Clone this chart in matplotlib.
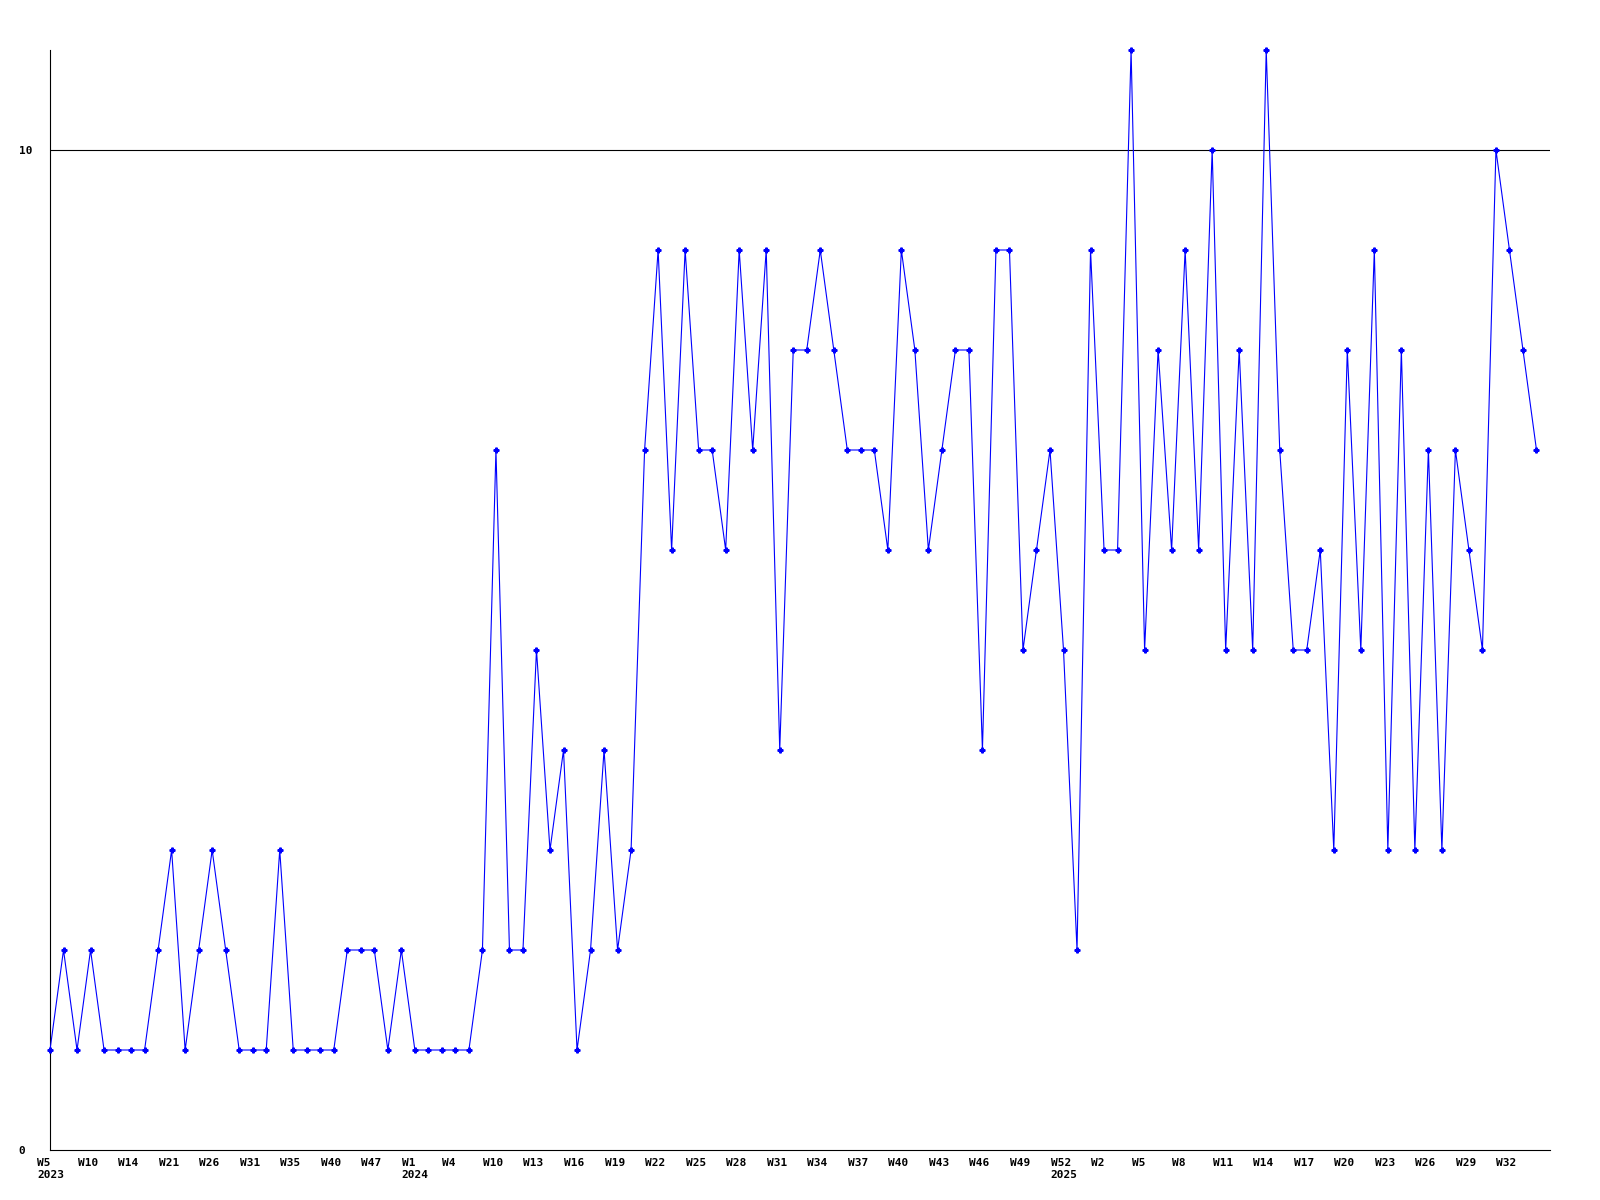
import numpy as np
import matplotlib
matplotlib.use("Agg")
import matplotlib.pyplot as plt
import matplotlib.transforms as mtransforms

# weekly counts, one point per reported week
values = [1, 2, 1, 2, 1, 1, 1, 1, 2, 3,
          1, 2, 3, 2, 1, 1, 1, 3, 1, 1,
          1, 1, 2, 2, 2, 1, 2, 1, 1, 1,
          1, 1, 2, 7, 2, 2, 5, 3, 4, 1,
          2, 4, 2, 3, 7, 9, 6, 9, 7, 7,
          6, 9, 7, 9, 4, 8, 8, 9, 8, 7,
          7, 7, 6, 9, 8, 6, 7, 8, 8, 4,
          9, 9, 5, 6, 7, 5, 2, 9, 6, 6,
          11, 5, 8, 6, 9, 6, 10, 5, 8, 5,
          11, 7, 5, 5, 6, 3, 8, 5, 9, 3,
          8, 3, 7, 3, 7, 6, 5, 10, 9, 8,
          7]

# label shown on every third point
week_labels = ["W5", "W10", "W14", "W21", "W26", "W31", "W35", "W40", "W47",
               "W1", "W4", "W10", "W13", "W16", "W19", "W22", "W25", "W28",
               "W31", "W34", "W37", "W40", "W43", "W46", "W49", "W52",
               "W2", "W5", "W8", "W11", "W14", "W17", "W20", "W23", "W26",
               "W29", "W32"]
year_labels = {0: "2023", 9: "2024", 25: "2025"}

y_ticks = [0, 10]

x = np.arange(len(values))

fig = plt.figure(figsize=(16, 12), dpi=100)
ax = fig.add_axes([50/1600, 50/1200, 1500/1600, 1100/1200])

ax.axhline(10, color="black", lw=0.8, zorder=1)
ax.plot(x, values, color="#0000ff", lw=0.8, marker="P", ms=3.5,
        mec="#0000ff", mfc="#0000ff", clip_on=False, zorder=3)

ax.set_xlim(0, 111)
ax.set_ylim(0, 11)

for s in ["top", "right"]:
    ax.spines[s].set_visible(False)
for s in ["left", "bottom"]:
    ax.spines[s].set_color("black")
    ax.spines[s].set_linewidth(0.8)

font = dict(family="DejaVu Sans Mono", weight="bold", size=8)

ax.set_yticks(y_ticks)
ax.set_yticklabels([str(v) for v in y_ticks], **font)
ax.tick_params(axis="y", length=0, pad=22.5)
for lab in ax.get_yticklabels():
    lab.set_horizontalalignment("left")

tick_pos = x[::3][:len(week_labels)]
labels = []
for i, w in enumerate(week_labels):
    if i in year_labels:
        labels.append(w + "\n" + year_labels[i])
    else:
        labels.append(w)
ax.set_xticks(tick_pos)
ax.set_xticklabels(labels, **font)
ax.tick_params(axis="x", length=0, pad=5.5)
shift = mtransforms.ScaledTranslation(-13/100, 0, fig.dpi_scale_trans)
for lab in ax.get_xticklabels():
    lab.set_horizontalalignment("left")
    lab.set_multialignment("left")
    lab.set_linespacing(1.35)
    lab.set_transform(lab.get_transform() + shift)

fig.savefig("out.png", dpi=100)
